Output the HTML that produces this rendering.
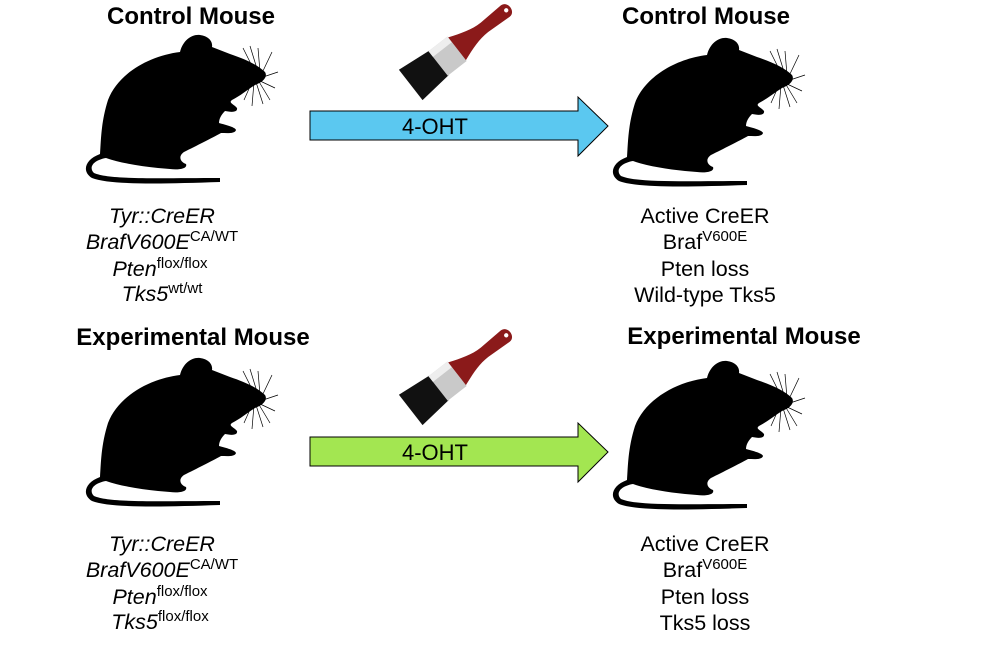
<!DOCTYPE html>
<html><head><meta charset="utf-8"><style>
body{margin:0;background:#fff;}
svg{display:block}
text{font-family:"Liberation Sans",Arial,sans-serif;}
</style></head><body>
<svg width="1000" height="649" viewBox="0 0 1000 649" xmlns="http://www.w3.org/2000/svg">
<defs>
<g id="mouse">
<path fill="#000" d="M100,22 C103,10 112,4 120,5 C128,6 133,11 132,17 L150,24 C165,29 178,35 185,42 C188,47 183,52 175,55 C167,60 160,66 152,70 C148,73 154,74 157,78 C158,83 150,82 145,81 C141,85 139,89 139,93 C146,95 155,97 156,100 C155,104 147,103 141,103 C132,108 116,116 104,122 C98,126 100,132 106,134 C108,139 98,140 90,139 L78,138 C60,136 40,133 26,128 C14,130 8,137 14,143 C30,150 80,148 140,148 L140,152 C80,154 30,155 12,148 C2,142 4,130 20,124 C21,110 21,92 28,70 C38,44 68,26 100,22 Z"/>
<g stroke="#000" stroke-width="0.7" fill="none">
<path d="M175,42 L163,18 M178,42 L170,16 M180,42 L178,18 M182,43 L192,22 M180,48 L198,42 M178,50 L195,58 M176,52 L183,74 M174,52 L172,76 M172,52 L164,70 M178,50 L190,70"/>
</g>
</g>
<g id="brush">
<g transform="rotate(-38) scale(1.2)">
<path d="M-50,-16 L-20,-13 L-20,13 L-50,16 Z" fill="#111"/>
<rect x="-21" y="-13" width="20" height="26" fill="#c9c9c9"/>
<rect x="-21" y="-13" width="20" height="6" fill="#eee"/>
<path d="M-1,-12 C10,-8 18,-5 28,-5 L50,-6 C57,-6 57,6 50,6 L28,5 C18,5 10,8 -1,12 Z" fill="#8b1a1a"/>
<circle cx="51" cy="0" r="1.8" fill="#fff"/>
</g>
</g>
</defs>

<text x="191" y="24" font-size="24" font-weight="bold" text-anchor="middle">Control Mouse</text>
<text x="706" y="24" font-size="24" font-weight="bold" text-anchor="middle">Control Mouse</text>
<text x="193" y="345" font-size="24" font-weight="bold" text-anchor="middle">Experimental Mouse</text>
<text x="744" y="344" font-size="24" font-weight="bold" text-anchor="middle">Experimental Mouse</text>

<use href="#mouse" transform="translate(80,30)"/>
<use href="#mouse" transform="translate(607,33)"/>
<use href="#mouse" transform="translate(80,353)"/>
<use href="#mouse" transform="translate(607,356)"/>

<use href="#brush" transform="translate(458,48)"/>
<use href="#brush" transform="translate(458,373)"/>

<polygon points="310,111 578,111 578,97 608,126 578,156 578,140 310,140" fill="#5bc8f0" stroke="#000" stroke-width="1"/>
<text x="435" y="134" font-size="22" text-anchor="middle">4-OHT</text>
<polygon points="310,437 578,437 578,423 608,452 578,482 578,466 310,466" fill="#a3e651" stroke="#000" stroke-width="1"/>
<text x="435" y="460" font-size="22" text-anchor="middle">4-OHT</text>

<g font-size="21.5" font-style="italic" text-anchor="middle">
<text x="162" y="223">Tyr::CreER</text>
<text x="162" y="249">BrafV600E<tspan font-size="15" font-style="normal" dy="-8">CA/WT</tspan></text>
<text x="160" y="276">Pten<tspan font-size="15" font-style="normal" dy="-8">flox/flox</tspan></text>
<text x="162" y="301">Tks5<tspan font-size="15" font-style="normal" dy="-8">wt/wt</tspan></text>
<text x="162" y="551">Tyr::CreER</text>
<text x="162" y="577">BrafV600E<tspan font-size="15" font-style="normal" dy="-8">CA/WT</tspan></text>
<text x="160" y="604">Pten<tspan font-size="15" font-style="normal" dy="-8">flox/flox</tspan></text>
<text x="160" y="629">Tks5<tspan font-size="15" font-style="normal" dy="-8">flox/flox</tspan></text>
</g>
<g font-size="21.5" text-anchor="middle">
<text x="705" y="223">Active CreER</text>
<text x="705" y="249">Braf<tspan font-size="15" dy="-8">V600E</tspan></text>
<text x="705" y="276">Pten loss</text>
<text x="705" y="302">Wild-type Tks5</text>
<text x="705" y="551">Active CreER</text>
<text x="705" y="577">Braf<tspan font-size="15" dy="-8">V600E</tspan></text>
<text x="705" y="604">Pten loss</text>
<text x="705" y="630">Tks5 loss</text>
</g>
</svg>
</body></html>
